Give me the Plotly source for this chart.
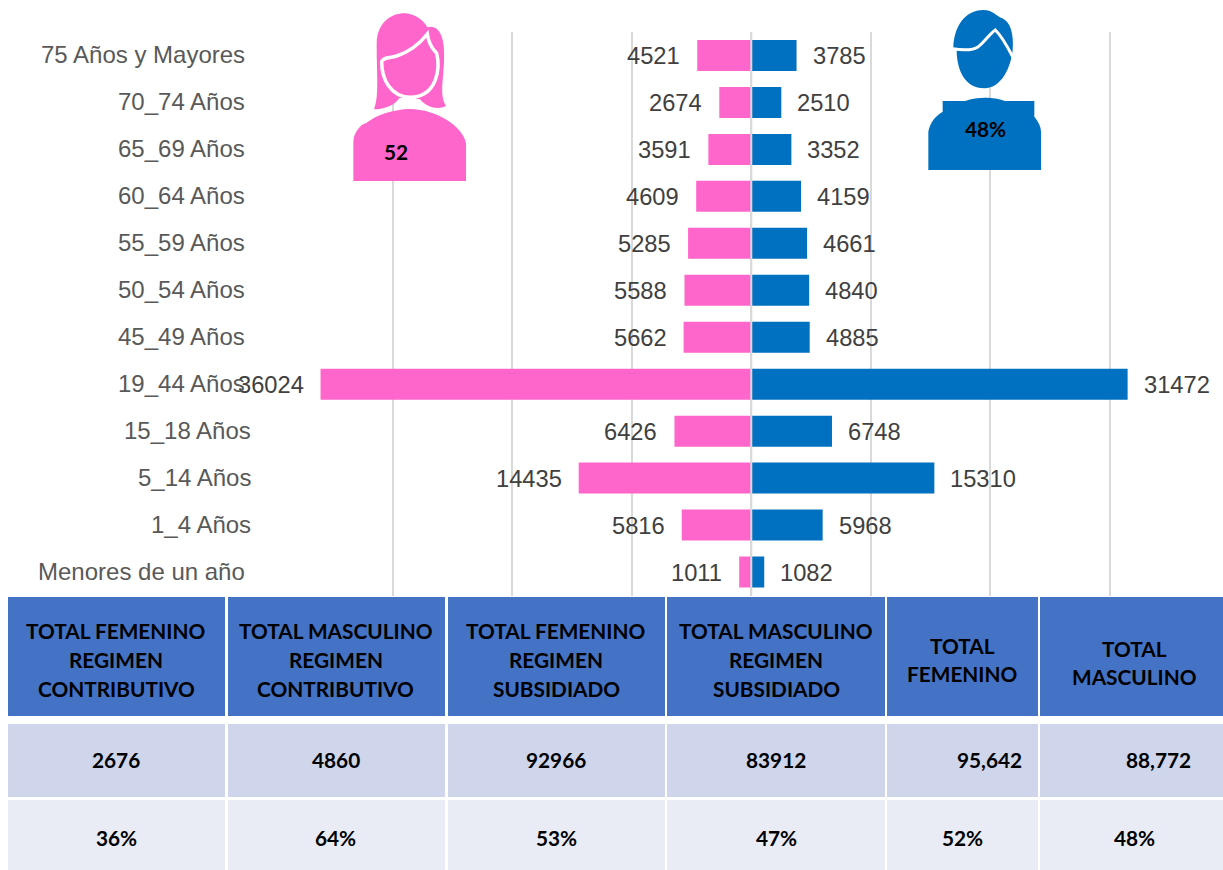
import plotly.graph_objects as go

# ---- data ----
categories = ["75 Años y Mayores", "70_74 Años", "65_69 Años", "60_64 Años", "55_59 Años",
              "50_54 Años", "45_49 Años", "19_44 Años", "15_18 Años", "5_14 Años",
              "1_4 Años", "Menores de un año"]
femenino = [4521, 2674, 3591, 4609, 5285, 5588, 5662, 36024, 6426, 14435, 5816, 1011]
masculino = [3785, 2510, 3352, 4159, 4661, 4840, 4885, 31472, 6748, 15310, 5968, 1082]

table_header = [["TOTAL FEMENINO", "REGIMEN", "CONTRIBUTIVO"],
                ["TOTAL MASCULINO", "REGIMEN", "CONTRIBUTIVO"],
                ["TOTAL FEMENINO", "REGIMEN", "SUBSIDIADO"],
                ["TOTAL MASCULINO", "REGIMEN", "SUBSIDIADO"],
                ["TOTAL", "FEMENINO"],
                ["TOTAL", "MASCULINO"]]
table_totals = ["2676", "4860", "92966", "83912", "95,642", "88,772"]
table_percent = ["36%", "64%", "53%", "47%", "52%", "48%"]
icon_fem = "52"
icon_masc = "48%"

# ---- style / layout ----
W, H = 1223, 870
PINK, BLUE = "#FF66CC", "#0070C0"
ARIAL = "Liberation Sans"
CAL = "Lato"
shifted = {"15_18 Años", "5_14 Años", "1_4 Años"}


def px(x):
    return x / W


def py(y):
    return 1 - y / H


def path(cmds, ox=0, oy=0, sx=1.0, sy=1.0):
    """cmds: list of (letter, [x, y, ...]) in pixel units, returned in paper units."""
    out = []
    for c, pts in cmds:
        coords = [f"{px(ox + pts[i] * sx):.5f},{py(oy + pts[i + 1] * sy):.5f}" for i in range(0, len(pts), 2)]
        if c == "L":
            out.extend("L" + p for p in coords)
        else:
            out.append(c + " ".join(coords))
    return " ".join(out)


fig = go.Figure()
fig.add_bar(y=categories, x=[-v for v in femenino], orientation="h", marker_color=PINK,
            marker_line_width=0, width=0.66, name="Femenino", customdata=femenino,
            hovertemplate="%{y}: %{customdata}<extra></extra>")
fig.add_bar(y=categories, x=masculino, orientation="h", marker_color=BLUE,
            marker_line_width=0, width=0.66, name="Masculino",
            hovertemplate="%{y}: %{x}<extra></extra>")

ann = []
for c, f, m in zip(categories, femenino, masculino):
    ann.append(dict(x=-f, y=c, xref="x", yref="y", text=str(f), showarrow=False, xanchor="right",
                    xshift=-15, yshift=-1, font=dict(family=ARIAL, size=23.7, color="#404040")))
    ann.append(dict(x=m, y=c, xref="x", yref="y", text=str(m), showarrow=False, xanchor="left",
                    xshift=14, yshift=-1, font=dict(family=ARIAL, size=23.7, color="#404040")))
    ann.append(dict(x=px(253 if c in shifted else 246.5), y=c, xref="paper", yref="y", text=c, showarrow=False,
                    xanchor="right", yshift=1, font=dict(family=ARIAL, size=24, color="#595959")))

shapes = []
# zero line above the bars
shapes.append(dict(type="line", xref="x", yref="paper", x0=0, x1=0, y0=py(595), y1=py(32),
                   line=dict(color="#D9D9D9", width=2), layer="above"))


def rect(x0, x1, y0, y1, color):
    shapes.append(dict(type="rect", xref="paper", yref="paper", x0=px(x0), x1=px(x1),
                       y0=py(y1), y1=py(y0), fillcolor=color, line_width=0, layer="above"))


def label(x, y, text, size=20.8):
    ann.append(dict(x=px(x), y=py(y), xref="paper", yref="paper", text=f"<b>{text}</b>", showarrow=False,
                    xanchor="center", yanchor="middle", font=dict(family=CAL, size=size, color="#000000")))


# table
col_edges = [(8, 225), (228, 445), (448, 665), (667, 885), (887, 1038), (1040, 1223)]
col_center = [116, 336, 556, 776, 962, 1134]
for i, (a, b) in enumerate(col_edges):
    rect(a, b, 597, 716, "#4472C4")
    rect(a, b, 724, 797, "#CFD5EA")
    rect(a, b, 800, 870, "#E9EBF5")
    lines = table_header[i]
    ys = [630, 659, 688] if len(lines) == 3 else ([645, 673] if i == 4 else [648, 676])
    for t, y in zip(lines, ys):
        label(col_center[i], y, t)
    tot_x = {4: 989, 5: 1158}.get(i, col_center[i])
    label(tot_x, 759.5, table_totals[i])
    label(col_center[i], 837.5, table_percent[i])

# woman icon (coordinates in a 3x design space)
W_O = dict(ox=340, oy=0, sx=1 / 3, sy=1 / 3)
hair = [("M", [102, 328]),
        ("C", [118, 290, 110, 230, 110, 130]),
        ("C", [112, 70, 150, 40, 195, 40]),
        ("C", [225, 42, 250, 60, 262, 82]),
        ("C", [290, 72, 310, 100, 312, 150]),
        ("C", [315, 230, 295, 280, 318, 318]),
        ("C", [300, 328, 265, 328, 240, 298]),
        ("L", [210, 292, 178, 294]),
        ("C", [165, 315, 135, 328, 102, 328]), ("Z", [])]
face = [("M", [125, 185]),
        ("C", [130, 170, 150, 175, 170, 168]),
        ("C", [210, 155, 240, 130, 262, 102]),
        ("C", [265, 125, 275, 145, 290, 160]),
        ("C", [300, 200, 295, 290, 210, 292]),
        ("C", [150, 290, 125, 235, 125, 185]), ("Z", [])]
body_w = [("M", [40, 543]), ("L", [378, 543, 378, 430]),
          ("C", [370, 380, 290, 328, 210, 327]),
          ("C", [160, 328, 110, 345, 80, 368]),
          ("L", [65, 375]),
          ("C", [45, 395, 40, 410, 40, 430]), ("Z", [])]
shapes.append(dict(type="path", xref="paper", yref="paper", path=path(hair, **W_O), fillcolor=PINK,
                   line_width=0, layer="above"))
shapes.append(dict(type="path", xref="paper", yref="paper", path=path(face, **W_O), fillcolor=PINK,
                   line=dict(color="#FFFFFF", width=3.5), layer="above"))
shapes.append(dict(type="path", xref="paper", yref="paper", path=path(body_w, **W_O), fillcolor=PINK,
                   line_width=0, layer="above"))
label(396, 151.5, icon_fem)

# man icon
M_O = dict(ox=915, oy=0, sx=1 / 3, sy=1 / 3)
head = [("M", [115, 145]),
        ("C", [116, 80, 150, 30, 205, 30]),
        ("C", [235, 30, 245, 50, 262, 55]),
        ("C", [285, 65, 297, 100, 293, 150]),
        ("C", [288, 200, 260, 265, 208, 265]),
        ("C", [150, 265, 125, 210, 125, 150]), ("Z", [])]
swoop = [("M", [113, 146]),
         ("C", [150, 152, 175, 150, 190, 140]),
         ("C", [210, 125, 225, 100, 241, 90]),
         ("C", [262, 110, 280, 145, 294, 172])]
body_m = [("M", [83, 303]), ("L", [150, 303]),
          ("C", [170, 296, 190, 293, 210, 293]),
          ("C", [235, 293, 250, 296, 270, 303]),
          ("L", [358, 303, 358, 350]),
          ("C", [370, 365, 378, 380, 378, 395]),
          ("L", [378, 510, 40, 510, 40, 395]),
          ("C", [45, 365, 65, 345, 83, 335]), ("Z", [])]
shapes.append(dict(type="path", xref="paper", yref="paper", path=path(head, **M_O), fillcolor=BLUE,
                   line_width=0, layer="above"))
shapes.append(dict(type="path", xref="paper", yref="paper", path=path(swoop, **M_O), fillcolor="rgba(0,0,0,0)",
                   line=dict(color="#FFFFFF", width=3), layer="above"))
shapes.append(dict(type="path", xref="paper", yref="paper", path=path(body_m, **M_O), fillcolor=BLUE,
                   line_width=0, layer="above"))
label(985, 129, icon_masc)

fig.update_layout(
    width=W, height=H, margin=dict(l=0, r=0, t=0, b=0), autosize=False,
    paper_bgcolor="#FFFFFF", plot_bgcolor="#FFFFFF", showlegend=False, barmode="overlay",
    annotations=ann, shapes=shapes,
    xaxis=dict(domain=[px(273), 1], range=[-40000, 39450], tickmode="linear", tick0=0, dtick=10000,
               showticklabels=False, ticks="", showgrid=True, gridcolor="#D9D9D9", gridwidth=2,
               zeroline=False, showline=False),
    yaxis=dict(domain=[py(595.5), py(32)], type="category", categoryorder="array", categoryarray=categories,
               range=[11.5, -0.5], showticklabels=False, ticks="", showgrid=False, zeroline=False, showline=False),
)
fig.write_html("out.html", post_script="document.body.style.margin='0';", config={"displayModeBar": False})
